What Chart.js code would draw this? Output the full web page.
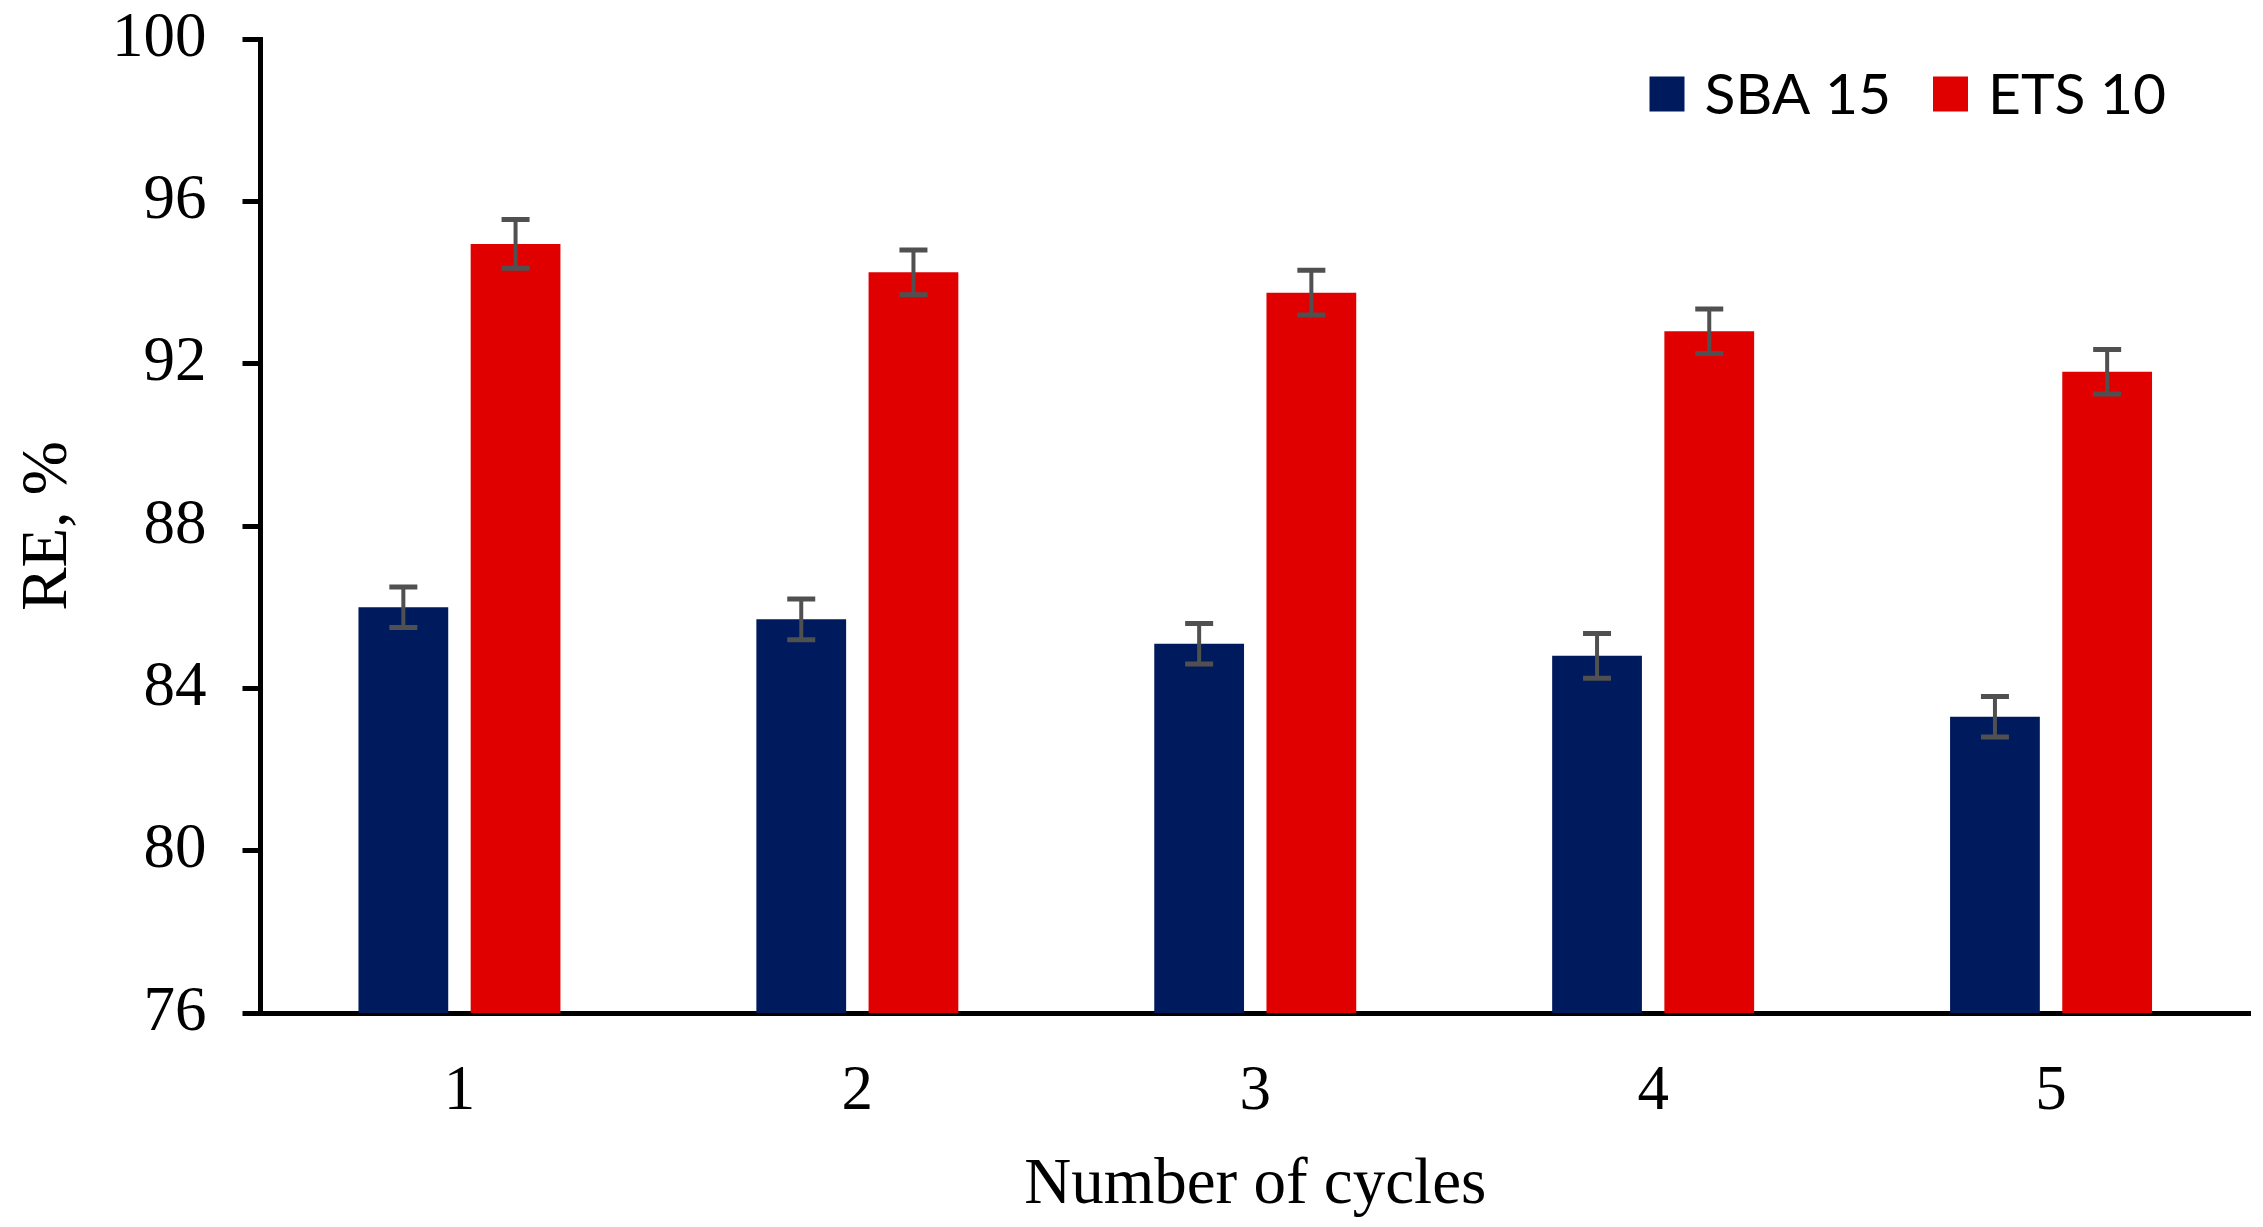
<!DOCTYPE html>
<html>
<head>
<meta charset="utf-8">
<script src="https://cdn.jsdelivr.net/npm/chart.js@4.4.1/dist/chart.umd.min.js"></script>
<style>
  html, body { margin: 0; padding: 0; background: #ffffff; }
  #wrap { width: 2263px; height: 1227px; position: relative; }
</style>
</head>
<body>
<div id="wrap"><canvas id="c"></canvas></div>
<script>
const categories = ['1', '2', '3', '4', '5'];
const seriesNames = ['SBA 15', 'ETS 10'];
const sba15 = [86.0, 85.7, 85.1, 84.8, 83.3];
const ets10 = [94.95, 94.25, 93.75, 92.8, 91.8];
const sba15Err = [0.5, 0.5, 0.5, 0.55, 0.5];
const ets10Err = [0.6, 0.55, 0.55, 0.55, 0.55];
const yMin = 76, yMax = 100, yStep = 4;

const serif = "'Liberation Serif', 'Times New Roman', serif";
const sans = "Lato, 'Open Sans', sans-serif";

const errorBarPlugin = {
  id: 'errorBars',
  afterDatasetsDraw(chart) {
    const ctx = chart.ctx;
    const yScale = chart.scales.y;
    chart.data.datasets.forEach((ds, di) => {
      const meta = chart.getDatasetMeta(di);
      meta.data.forEach((bar, i) => {
        const v = ds.data[i], e = ds.errors[i];
        const yt = yScale.getPixelForValue(v + e);
        const yb = yScale.getPixelForValue(v - e);
        const x = bar.x;
        ctx.save();
        ctx.strokeStyle = '#505050';
        ctx.lineCap = 'butt';
        ctx.lineWidth = 4;
        ctx.beginPath();
        ctx.moveTo(x, yt); ctx.lineTo(x, yb);
        ctx.stroke();
        ctx.lineWidth = 5;
        ctx.beginPath();
        ctx.moveTo(x - 14, yt); ctx.lineTo(x + 14, yt);
        ctx.moveTo(x - 14, yb); ctx.lineTo(x + 14, yb);
        ctx.stroke();
        ctx.restore();
      });
    });
  }
};

const legendPlugin = {
  id: 'insideLegend',
  afterDraw(chart) {
    const ctx = chart.ctx;
    const area = chart.chartArea;
    const box = 35, gapText = 20, gapItem = 42;
    let x = area.left + 1389;
    const yc = area.top + 55;
    ctx.save();
    ctx.font = '57px ' + sans;
    ctx.textBaseline = 'middle';
    ctx.textAlign = 'left';
    chart.data.datasets.forEach(ds => {
      ctx.fillStyle = ds.backgroundColor;
      ctx.fillRect(x, yc - box / 2, box, box);
      x += box + gapText;
      ctx.fillStyle = '#000000';
      ctx.fillText(ds.label, x, yc + 2);
      x += ctx.measureText(ds.label).width + gapItem;
    });
    ctx.restore();
  }
};

new Chart(document.getElementById('c'), {
  type: 'bar',
  data: {
    labels: categories,
    datasets: [
      { label: seriesNames[0], data: sba15, errors: sba15Err, backgroundColor: '#001A5E',
        barPercentage: 0.8, categoryPercentage: 0.564 },
      { label: seriesNames[1], data: ets10, errors: ets10Err, backgroundColor: '#E00000',
        barPercentage: 0.8, categoryPercentage: 0.564 }
    ]
  },
  options: {
    responsive: true,
    maintainAspectRatio: false,
    animation: false,
    devicePixelRatio: 1,
    layout: { padding: { left: 0, right: 13, top: 0, bottom: 0 } },
    plugins: {
      legend: { display: false },
      tooltip: { enabled: false }
    },
    scales: {
      x: {
        grid: { display: false, drawTicks: false, drawOnChartArea: false },
        border: { display: true, color: '#000000', width: 5 },
        ticks: { color: '#000000', padding: 42, font: { family: serif, size: 63 } },
        title: { display: true, text: 'Number of cycles', color: '#000000',
                 font: { family: serif, size: 65 }, padding: { top: -25.6, bottom: 2 } }
      },
      y: {
        min: yMin, max: yMax,
        grid: { display: true, drawOnChartArea: false, drawTicks: true, tickLength: 18,
                tickWidth: 5, color: '#000000' },
        border: { display: true, color: '#000000', width: 5 },
        ticks: { stepSize: yStep, color: '#000000', padding: 36, font: { family: serif, size: 63 } },
        title: { display: true, text: 'RE, %', color: '#000000',
                 font: { family: serif, size: 65 }, padding: { top: 10, bottom: -12 } },
        afterFit(scale) {
          scale.paddingTop = 39;
          scale.paddingBottom = 39;
        }
      }
    }
  },
  plugins: [errorBarPlugin, legendPlugin]
});
</script>
</body>
</html>
